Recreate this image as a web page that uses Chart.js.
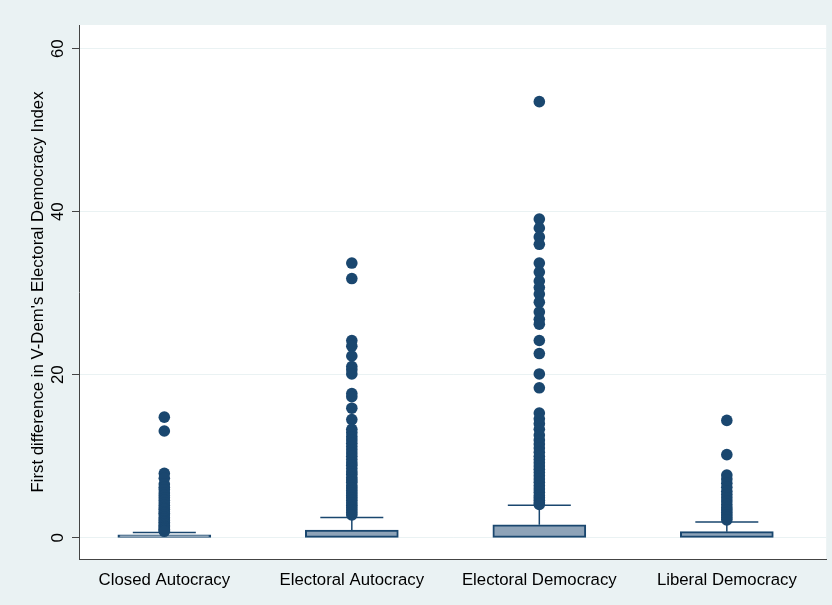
<!DOCTYPE html>
<html>
<head>
<meta charset="utf-8">
<title>First difference in V-Dem's Electoral Democracy Index</title>
<script src="https://cdn.jsdelivr.net/npm/chart.js@4.4.1/dist/chart.umd.min.js"></script>
<style>
  html, body { margin: 0; padding: 0; background: #eaf2f3; }
  canvas { display: block; }
</style>
</head>
<body>
<canvas id="boxChart" width="832" height="605"></canvas>
<script>
/* ── data ── */
const categories = ['Closed Autocracy', 'Electoral Autocracy', 'Electoral Democracy', 'Liberal Democracy'];

const boxLower   = [0, 0, 0, 0];
const boxUpper   = [0.35, 0.95, 1.6, 0.75];
const whiskerTop = [0.65, 2.5, 4.0, 1.95];

const outClosedAut = [14.8, 13.1, 7.9, 7.3, 6.6, 6.2, 5.9, 5.5, 5.2, 4.9, 4.6, 4.3, 4.0, 3.7,
  3.5, 3.2, 3.0, 2.8, 2.5, 2.3, 2.1, 1.9, 1.7, 1.5, 1.35, 1.2, 1.05, 0.9, 0.8];
const outElectAut = [33.7, 31.8, 24.2, 23.5, 22.3, 21.0, 20.6, 20.1, 17.7, 17.3, 15.9, 14.5,
  13.3, 12.9, 12.4, 12.0, 11.6, 11.2, 10.8, 10.4, 10.0, 9.6, 9.2, 8.9, 8.5, 8.1, 7.8, 7.4,
  7.1, 6.8, 6.4, 6.1, 5.8, 5.5, 5.2, 4.9, 4.6, 4.3, 4.0, 3.7, 3.4, 3.1, 2.8];
const outElectDem = [53.5, 39.1, 38.0, 36.9, 36.0, 33.7, 32.6, 31.5, 30.7, 29.9, 28.9, 27.7,
  26.8, 26.2, 24.2, 22.6, 20.1, 18.4, 15.3, 14.6, 14.0, 13.3, 12.6, 12.0, 11.5, 11.0, 10.5,
  10.0, 9.6, 9.2, 8.8, 8.4, 8.0, 7.6, 7.2, 6.8, 6.4, 6.0, 5.6, 5.2, 4.9, 4.6, 4.3, 4.1];
const outLiberalDem = [14.4, 10.2, 7.7, 7.2, 6.7, 6.2, 5.7, 5.3, 4.9, 4.5, 4.1, 3.7, 3.4,
  3.1, 2.8, 2.5, 2.2];
const outliers = [outClosedAut, outElectAut, outElectDem, outLiberalDem];

const yTicks = [0, 20, 40, 60];

/* ── styles ── */
const NAVY    = '#1a476f';
const BOX_BG  = '#8ea3b8';
const REGION  = '#eaf2f3';
const FONT    = "'Liberation Sans', Arial, Helvetica, sans-serif";
const FONT_SIZE = 16.8;
const CAP_HALF = 0.168;   // half width of whisker cap, in x units

/* ── datasets ── */
const boxData = categories.map((_, i) => ({ x: i + 1, y: [boxLower[i], boxUpper[i]] }));

const whiskerSets = categories.map((_, i) => ({
  type: 'scatter',
  showLine: true,
  data: [
    { x: i + 1, y: boxUpper[i] },
    { x: i + 1, y: whiskerTop[i] },
    { x: i + 1 - CAP_HALF, y: whiskerTop[i] },
    { x: i + 1 + CAP_HALF, y: whiskerTop[i] },
  ],
  borderColor: NAVY,
  borderWidth: 1.5,
  pointRadius: 0,
  order: 1,
}));

const outlierPoints = [];
outliers.forEach((vals, i) => vals.forEach((v) => outlierPoints.push({ x: i + 1, y: v })));

/* ── plugins ── */
const backdrop = {
  id: 'backdrop',
  beforeDraw(chart) {
    const { ctx, chartArea: a } = chart;
    ctx.save();
    ctx.fillStyle = REGION;
    ctx.fillRect(0, 0, chart.width, chart.height);
    ctx.fillStyle = '#ffffff';
    ctx.fillRect(a.left, a.top, a.right - a.left, a.bottom - a.top);
    ctx.restore();
  },
};

// Stata draws y tick labels turned on their side
const sideTicks = {
  id: 'sideTicks',
  afterDraw(chart) {
    const { ctx } = chart;
    const y = chart.scales.y;
    ctx.save();
    ctx.fillStyle = '#000';
    ctx.font = `${FONT_SIZE}px ${FONT}`;
    ctx.textAlign = 'center';
    ctx.textBaseline = 'middle';
    yTicks.forEach((t) => {
      ctx.save();
      ctx.translate(58, y.getPixelForValue(t));
      ctx.rotate(-Math.PI / 2);
      ctx.fillText(String(t), 0, 0);
      ctx.restore();
    });
    ctx.restore();
  },
};

Chart.defaults.font.family = FONT;
Chart.defaults.color = '#000';

new Chart(document.getElementById('boxChart'), {
  type: 'scatter',
  data: {
    datasets: [
      {
        type: 'scatter',
        data: outlierPoints,
        backgroundColor: NAVY,
        borderWidth: 0,
        pointRadius: 5.8,
        order: 0,
      },
      ...whiskerSets,
      {
        type: 'bar',
        data: boxData,
        backgroundColor: BOX_BG,
        borderColor: NAVY,
        borderWidth: 2,
        borderSkipped: false,
        barThickness: 93,
        order: 2,
      },
    ],
  },
  options: {
    responsive: false,
    animation: false,
    devicePixelRatio: 1,
    layout: { padding: { top: 25, right: 3, left: 0, bottom: 0 } },
    plugins: {
      legend: { display: false },
      tooltip: { enabled: false },
    },
    scales: {
      x: {
        type: 'linear',
        min: 0.545,
        max: 4.53,
        offset: false,
        grid: { display: false, offset: false },
        border: { display: true, color: '#444', width: 1 },
        afterBuildTicks: (s) => { s.ticks = categories.map((_, i) => ({ value: i + 1 })); },
        afterFit: (s) => { s.height = 46; },
        ticks: {
          padding: 3,
          maxRotation: 0,
          autoSkip: false,
          font: { size: FONT_SIZE },
          callback: (v) => categories[v - 1] || '',
        },
      },
      y: {
        type: 'linear',
        min: -2.6,
        max: 62.9,
        afterFit: (s) => { s.width = 79; },
        grid: { color: REGION, lineWidth: 1, tickLength: 7, tickColor: '#444' },
        border: { display: true, color: '#444', width: 1 },
        ticks: { stepSize: 20, includeBounds: false, display: false },
        title: {
          display: true,
          text: "First difference in V-Dem's Electoral Democracy Index",
          font: { size: FONT_SIZE },
          color: '#000',
          padding: { top: 28, bottom: 0 },
        },
      },
    },
  },
  plugins: [backdrop, sideTicks],
});
</script>
</body>
</html>
